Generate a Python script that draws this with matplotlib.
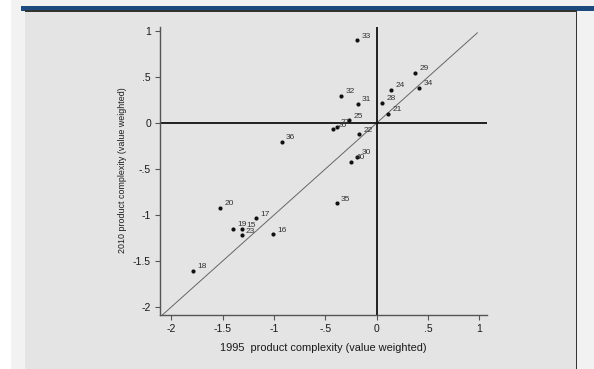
import matplotlib
matplotlib.use("Agg")
import matplotlib.pyplot as plt
from matplotlib.patches import Rectangle

plt.rcParams['font.family'] = ['Liberation Sans', 'DejaVu Sans']

# Product complexity by country code, 1995 vs 2010 (value weighted)
codes = ['15', '16', '17', '18', '19', '20', '21', '22', '23', '24', '25', '26',
         '27', '28', '29', '30', '31', '32', '33', '34', '35', '36', '40']
pc_1995 = [-1.31, -1.013, -1.175, -1.789, -1.402, -1.526, 0.113, -0.17, -1.315,
           0.14, -0.267, -0.425, -0.39, 0.055, 0.37, -0.19, -0.185, -0.35, -0.19,
           0.415, -0.39, -0.925, -0.25]
pc_2010 = [-1.155, -1.21, -1.035, -1.61, -1.15, -0.92, 0.098, -0.123, -1.22,
           0.36, 0.029, -0.07, -0.045, 0.22, 0.547, -0.37, 0.207, 0.297, 0.90,
           0.384, -0.873, -0.207, -0.424]

x_ticks = [-2, -1.5, -1, -0.5, 0, 0.5, 1]
x_ticklabels = ['-2', '-1.5', '-1', '-.5', '0', '.5', '1']
y_ticks = [-2, -1.5, -1, -0.5, 0, 0.5, 1]
y_ticklabels = ['-2', '-1.5', '-1', '-.5', '0', '.5', '1']

W, H = 594, 369
fig = plt.figure(figsize=(W / 100, H / 100), dpi=100, facecolor='#f2f2f2')

def px_rect(x0, y0, x1, y1, color, z):
    fig.patches.append(Rectangle((x0 / W, 1 - y1 / H), (x1 - x0) / W, (y1 - y0) / H,
                                 transform=fig.transFigure, facecolor=color,
                                 edgecolor='none', zorder=z))

# page frame
px_rect(0, 0, 11, H, '#ffffff', -2)
px_rect(25, 10, 577, H, '#e4e4e4', -2)
px_rect(21, 6, W, 10.5, '#1d4a7e', -1)
px_rect(25, 10.5, 577, 11.8, '#333333', -1)
px_rect(575.5, 10.5, 577, H, '#333333', -1)

ax = fig.add_axes([160 / W, 1 - 314.7 / H, (487 - 160) / W, (314.7 - 26.5) / H])
ax.set_facecolor('none')
ax.set_xlim(-2.11, 1.074)
ax.set_ylim(-2.084, 1.049)

for s in ('top', 'right'):
    ax.spines[s].set_visible(False)
for s in ('left', 'bottom'):
    ax.spines[s].set_color('#555555')
    ax.spines[s].set_linewidth(1.0)

ax.set_xticks(x_ticks)
ax.set_xticklabels(x_ticklabels)
ax.set_yticks(y_ticks)
ax.set_yticklabels(y_ticklabels)
ax.tick_params(axis='both', direction='out', length=3.5, width=0.8, color='#555555',
               labelsize=7.5, labelcolor='#1a1a1a', pad=3)

# 45-degree line and reference axes through zero
ax.plot([-2.11, 0.98], [-2.11, 0.98], color='#666666', lw=0.7, zorder=1)
ax.axhline(0, color='#111111', lw=1.3, zorder=2)
ax.axvline(0, color='#111111', lw=1.3, zorder=2)

ax.scatter(pc_1995, pc_2010, s=9, color='#111111', zorder=3, linewidths=0)
for c, x, y in zip(codes, pc_1995, pc_2010):
    ax.annotate(c, (x, y), xytext=(3.2, 3.0), textcoords='offset points',
                fontsize=6, color='#333333', va='center', ha='left', zorder=4)

ax.set_xlabel('1995  product complexity (value weighted)', fontsize=7.9,
              color='#1a1a1a', labelpad=6.5)
ax.set_ylabel('2010 product complexity (value weighted)', fontsize=6.4,
              color='#1a1a1a', labelpad=4.5)

fig.savefig('out.png', dpi=100, facecolor=fig.get_facecolor())
